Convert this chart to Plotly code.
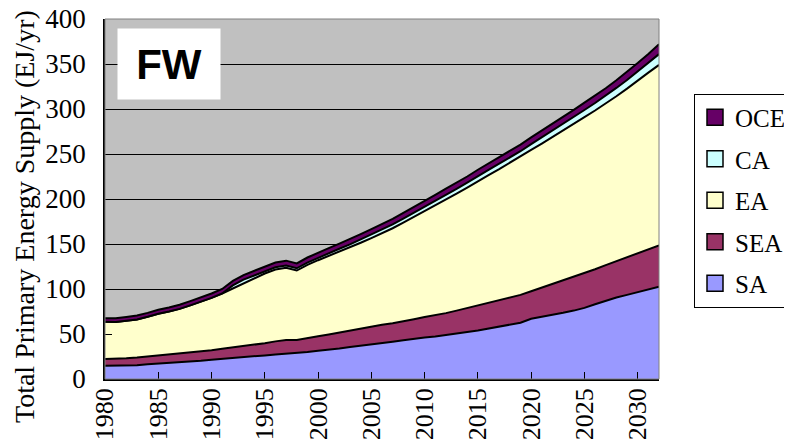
import plotly.graph_objects as go

years = list(range(1980, 2033))

SA = [14.8, 14.8, 14.9, 15.3, 16.3, 17.0, 17.8, 18.7, 19.6, 20.4,
      21.5, 22.3, 23.2, 24.0, 25.0, 26.2, 27.3, 28.3, 28.5, 30.0,
      31.5, 32.4, 33.8, 35.5, 36.8, 38.4, 40.2, 41.5, 43.0, 44.8,
      46.0, 47.2, 48.6, 50.3, 52.2, 54.0, 56.0, 58.0, 60.0, 62.5,
      67.0, 69.0, 71.0, 73.5, 76.0, 79.0, 83.0, 87.0, 90.5, 93.5,
      96.5, 99.5, 102.5]

SEA = [7.4, 7.6, 8.1, 8.5, 8.7, 9.2, 9.1, 9.1, 9.6, 10.2,
       10.5, 11.2, 11.8, 12.3, 13.0, 13.6, 14.5, 14.9, 14.8, 15.0,
       16.0, 17.1, 18.0, 18.5, 19.2, 19.6, 20.0, 20.5, 21.0, 21.7,
       23.0, 23.8, 24.6, 25.7, 26.8, 28.0, 28.8, 29.6, 30.8, 31.0,
       30.5, 32.5, 34.5, 36.0, 37.5, 39.0, 39.0, 39.5, 40.5, 42.0,
       43.5, 44.5, 46.0]

EA = [41.3, 41.0, 41.8, 42.4, 44.1, 46.3, 48.1, 50.1, 52.6, 55.1,
      58.1, 61.5, 65.5, 69.6, 73.3, 77.4, 79.8, 80.5, 77.2, 81.8,
      84.5, 87.2, 89.7, 92.2, 95.4, 98.6, 101.6, 105.5, 109.7, 113.5,
      117.7, 121.9, 126.5, 129.9, 133.7, 137.9, 141.8, 145.7, 149.3, 153.3,
      157.0, 160.1, 163.2, 166.3, 169.8, 172.9, 176.3, 179.3, 183.2, 187.1,
      192.0, 196.4, 200.5]

CA = [0, 0, 0, 0, 0, 0, 0, 0, 0, 0,
      0, 0, 3.5, 4.5, 3.5, 2.5, 2.5, 2.3, 2.5, 2.6,
      2.8, 3.0, 3.2, 3.4, 3.6, 3.8, 4.0, 4.2, 4.4, 4.6,
      4.8, 5.0, 5.1, 5.3, 5.4, 5.6, 5.8, 6.0, 6.1, 6.3,
      6.5, 6.8, 7.1, 7.4, 7.7, 8.0, 8.4, 8.8, 9.2, 9.6,
      10.0, 10.8, 12.0]

OCE = [4.0, 4.1, 4.2, 4.3, 4.4, 4.5, 4.5, 4.6, 4.7, 4.8,
       4.9, 5.0, 5.0, 5.1, 5.2, 5.3, 5.4, 5.5, 5.5, 5.6,
       5.7, 5.8, 5.8, 5.9, 6.0, 6.1, 6.2, 6.3, 6.4, 6.4,
       6.5, 6.6, 6.7, 6.8, 6.9, 7.0, 7.1, 7.2, 7.3, 7.4,
       7.5, 7.6, 7.7, 7.8, 8.0, 8.1, 8.3, 8.4, 8.6, 8.8,
       9.0, 9.8, 11.0]

series_names = ["SA", "SEA", "EA", "CA", "OCE"]
series_values = [SA, SEA, EA, CA, OCE]
series_colors = ["#9999FF", "#993366", "#FFFFCC", "#CCFFFF", "#660066"]

x_tick_vals = [1980, 1985, 1990, 1995, 2000, 2005, 2010, 2015, 2020, 2025, 2030]
x_tick_text = ["1980", "1985", "1990", "1995", "2000", "2005", "2010", "2015", "2020", "2025", "2030"]
y_tick_vals = [0, 50, 100, 150, 200, 250, 300, 350, 400]

SERIF = "Liberation Serif, Times New Roman, serif"

# page body has an 8px margin, so the figure is drawn 8px smaller and offset
OFF = 8
PL, PT, PW, PH = 105 - OFF, 19 - OFF, 554, 360
W, H = 792 - OFF, 448 - OFF


def px_x(x):
    return (x - OFF - PL) / PW


def px_y(y):
    return 1 - (y - OFF - PT) / PH


fig = go.Figure()

for name, vals, col in zip(series_names, series_values, series_colors):
    fig.add_trace(go.Scatter(
        x=years, y=vals, name=name, mode="lines", stackgroup="one",
        line=dict(color="black", width=2), fillcolor=col,
        showlegend=False, hoverinfo="skip"))

for name, col in reversed(list(zip(series_names, series_colors))):
    fig.add_trace(go.Scatter(
        x=[None], y=[None], name=name, mode="markers", legendgroup=name,
        marker=dict(symbol="square", size=16, color=col,
                    line=dict(color="black", width=1.5)),
        showlegend=True))

fig.update_layout(
    width=W, height=H,
    margin=dict(l=PL, r=W - PL - PW, t=PT, b=H - PT - PH, autoexpand=False),
    paper_bgcolor="white",
    plot_bgcolor="#C0C0C0",
    font=dict(family=SERIF, color="black", size=25),
    legend=dict(
        x=px_x(694), y=px_y(93.5),
        xanchor="left", yanchor="top",
        bgcolor="white", bordercolor="black", borderwidth=1,
        font=dict(family=SERIF, size=25, color="black"),
        traceorder="grouped", tracegroupgap=6, itemsizing="trace"),
    xaxis=dict(
        range=[1980, 2032], tickmode="array",
        tickvals=x_tick_vals, ticktext=x_tick_text, tickangle=-90,
        ticks="inside", ticklen=7, tickcolor="black",
        showline=True, linecolor="black", linewidth=1.5,
        showgrid=False, zeroline=False, automargin=False,
        ticklabeloverflow="allow",
        tickfont=dict(family=SERIF, size=26, color="black"),
        ticklabelstandoff=-3),
    yaxis=dict(
        range=[0, 400], tickmode="array", tickvals=y_tick_vals,
        ticks="inside", ticklen=7, tickcolor="black",
        showline=True, linecolor="black", linewidth=1.5,
        showgrid=True, gridcolor="black", gridwidth=1,
        zeroline=False, automargin=False,
        ticklabeloverflow="allow",
        tickfont=dict(family=SERIF, size=27, color="black"),
        ticklabelstandoff=12),
    shapes=[dict(type="rect", xref="paper", yref="paper", x0=0, x1=1, y0=0, y1=1,
                 line=dict(color="#808080", width=1), layer="above")],
    annotations=[
        dict(text="<b>FW</b>", xref="paper", yref="paper",
             x=px_x(169), y=px_y(64),
             xanchor="center", yanchor="middle", showarrow=False,
             font=dict(family="Liberation Sans, Arial, sans-serif", size=42, color="black"),
             bgcolor="white", width=90, height=58, borderpad=6),
        dict(text="Total Primary Energy Supply (EJ/yr)", xref="paper", yref="paper",
             x=px_x(24), y=px_y(217), textangle=-90,
             xanchor="center", yanchor="middle", showarrow=False,
             font=dict(family=SERIF, size=28, color="black")),
    ],
)

fig.write_html("out.html")
